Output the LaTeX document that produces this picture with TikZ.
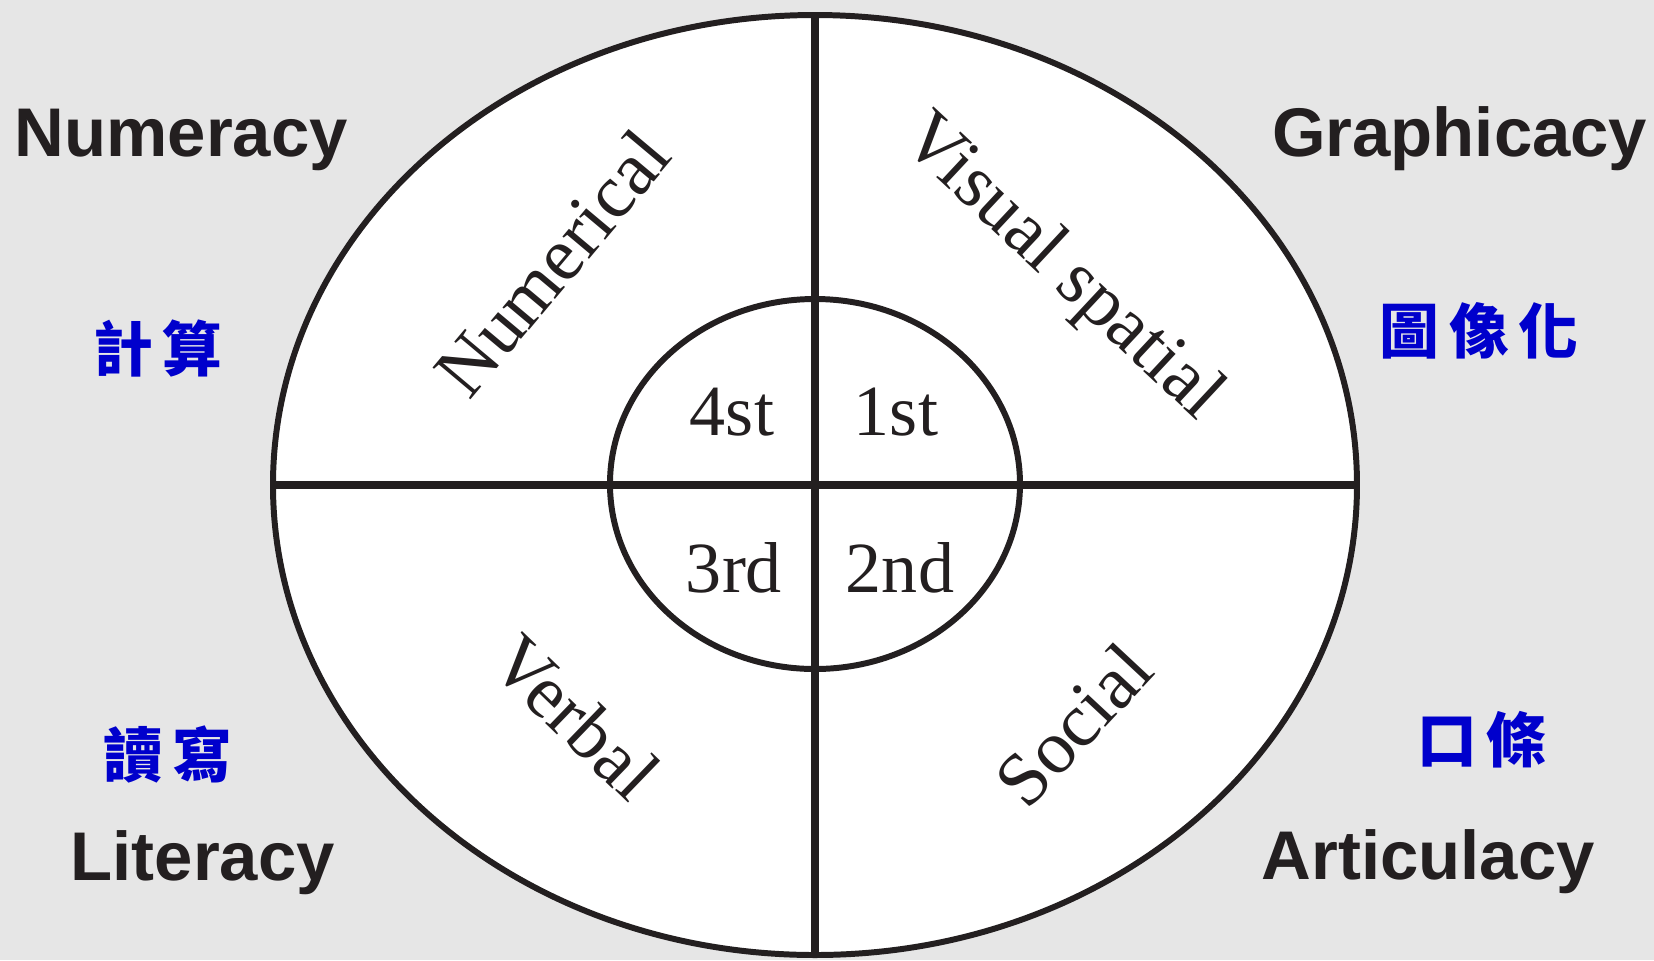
\documentclass[tikz,border=0pt]{standalone}
\usepackage{fontspec}
\setmainfont{Liberation Serif}
\newfontfamily\headfont{Liberation Sans}
\newfontfamily\cjk{Noto Sans CJK TC}
\usepackage{xcolor}
\definecolor{paper}{RGB}{230,230,230}
\definecolor{ink}{RGB}{35,31,32}
\definecolor{zhblue}{RGB}{0,0,204}
\tikzset{
  head/.style={text=ink,inner sep=0pt,font=\headfont\bfseries\fontsize{19.6}{24}\selectfont},
  zh/.style={text=zhblue,inner sep=0pt,font=\cjk\bfseries\fontsize{17}{20}\selectfont},
  part/.style={text=ink,inner sep=0pt,font=\fontsize{20.5}{24}\selectfont},
  arm/.style={part,font=\fontsize{21.5}{24}\selectfont},
}

\begin{document}
\begin{tikzpicture}
        \def\rx{5.42}
        \def\ry{4.70}
        \def\irx{2.05}
        \def\iry{1.85}

        %------------------
        % background
        %------------------
        \fill[paper] (-8.15,-4.75) rectangle (8.39,4.85);
        \useasboundingbox (-8.15,-4.75) rectangle (8.39,4.85);

        %------------------
        % ellipses
        %------------------
        \coordinate (o) at (0,0);
        \coordinate (w) at (-\rx,0);
        \coordinate (e) at (\rx,0);
        \coordinate (n) at (0,\ry);
        \coordinate (s) at (0,-\ry);
        \draw[ink,fill=white,line width=1.7pt] (o) ellipse ({\rx} and {\ry});
        \draw[ink,line width=1.7pt] (0,0.01) ellipse ({\irx} and {\iry});

        % cross
        \draw[ink,line width=2.3pt] (w)--(e);
        \draw[ink,line width=2.3pt] (n)--(s);

        %------------------
        % labels
        %------------------
        \node[part,anchor=base] (p4) at (-0.83,0.50) {4st};
        \node[part,anchor=base] (p1) at (0.81,0.50) {1st};
        \node[part,anchor=base] (p3) at (-0.81,-1.07) {3rd};
        \node[part,anchor=base] (p2) at (0.85,-1.07) {2nd};

        \node[arm,rotate=50] (num) at (-2.63,2.22) {Numerical};
        \node[arm,rotate=-43] (vis) at (2.46,2.16) {Visual spatial};
        \node[arm,rotate=-44] (verb) at (-2.39,-2.32) {Verbal};
        \node[arm,rotate=47] (soc) at (2.58,-2.40) {Social};

        \node[head,anchor=base west] (numeracy) at (-8.01,3.29) {Numeracy};
        \node[head,anchor=base east] (graph) at (8.33,3.29) {Graphicacy};
        \node[head,anchor=base west] (lit) at (-7.45,-3.95) {Literacy};
        \node[head,anchor=base west] (art) at (4.46,-3.94) {Articulacy};

        \node[zh] (zhnum) at (-6.57,1.37) {計\,算};
        \node[zh] (zhgraph) at (6.64,1.54) {圖\,像\,化};
        \node[zh] (zhlit) at (-6.47,-2.69) {讀\,寫};
        \node[zh] (zhart) at (6.67,-2.55) {口\,條};
      \end{tikzpicture}
\end{document}
